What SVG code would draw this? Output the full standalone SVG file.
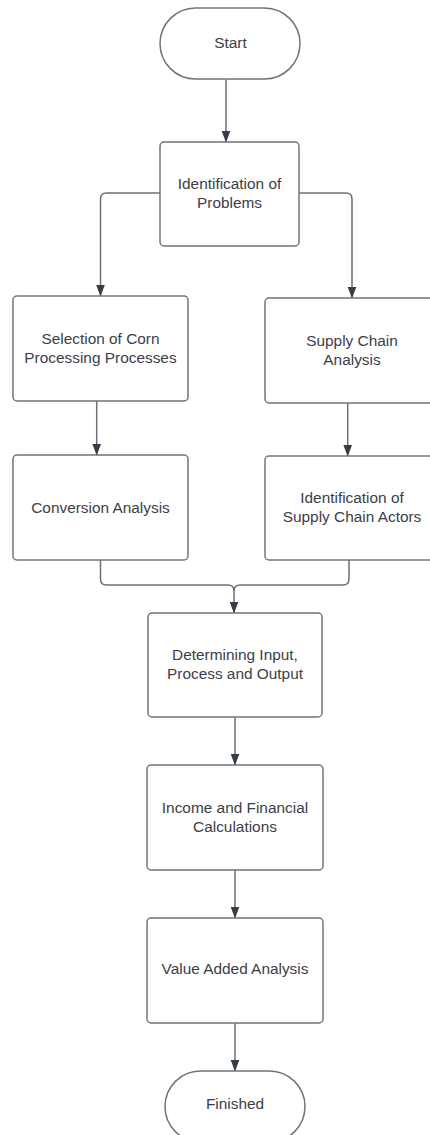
<svg xmlns="http://www.w3.org/2000/svg" width="430" height="1135" viewBox="0 0 430 1135">
<style>
.box{fill:#ffffff;stroke:#707479;stroke-width:1.5}
.lbl{font-family:"Liberation Sans",Arial,sans-serif;font-size:15.4px;fill:#3b4048;text-anchor:middle}
.con{fill:none;stroke:#6b7078;stroke-width:1.5;marker-end:url(#ah)}
</style>
<defs>
<marker id="ah" viewBox="0 0 12 10" markerWidth="12" markerHeight="10" refX="11.5" refY="5" orient="auto" markerUnits="userSpaceOnUse">
<path d="M0,0.5 L12,5 L0,9.5 z" fill="#363d47"/>
</marker>
</defs>
<rect width="430" height="1135" fill="#ffffff"/>
<g id="connectors">
<path class="con" d="M226,79.5 V142"/>
<path class="con" d="M160,193 H106.5 Q100.5,193 100.5,199 V296"/>
<path class="con" d="M299,193 H346 Q352,193 352,199 V298"/>
<path class="con" d="M96.7,401 V455"/>
<path class="con" d="M347.7,403 V456"/>
<path class="con" d="M100.5,560 V579 Q100.5,585 106.5,585 H228 Q234,585 234,591 V613"/>
<path fill="none" stroke="#6b7078" stroke-width="1.5" d="M349,560 V579 Q349,585 343,585 H240 Q234,585 234,591"/>
<path class="con" d="M235,717 V765"/>
<path class="con" d="M235,870 V918"/>
<path class="con" d="M235,1023 V1071"/>
</g>
<g id="start">
<rect class="box" x="160" y="8" width="140" height="71" rx="35.5"/>
<text class="lbl" x="230.5" y="48">Start</text>
</g>
<g id="identification-problems">
<rect class="box" x="160" y="142" width="139" height="104" rx="4"/>
<text class="lbl" x="229.5" y="189">Identification of</text>
<text class="lbl" x="229.5" y="208">Problems</text>
</g>
<g id="selection">
<rect class="box" x="13" y="296" width="175" height="105" rx="4"/>
<text class="lbl" x="100.5" y="343.5">Selection of Corn</text>
<text class="lbl" x="100.5" y="362.5">Processing Processes</text>
</g>
<g id="supply-chain-analysis">
<rect class="box" x="265" y="298" width="174" height="105" rx="4"/>
<text class="lbl" x="352" y="345.5">Supply Chain</text>
<text class="lbl" x="352" y="364.5">Analysis</text>
</g>
<g id="conversion">
<rect class="box" x="13" y="455" width="175" height="105" rx="4"/>
<text class="lbl" x="100.5" y="512.5">Conversion Analysis</text>
</g>
<g id="actors">
<rect class="box" x="265" y="456" width="174" height="104" rx="4"/>
<text class="lbl" x="352" y="502.5">Identification of</text>
<text class="lbl" x="352" y="521.5">Supply Chain Actors</text>
</g>
<g id="determining">
<rect class="box" x="148" y="613" width="174" height="104" rx="4"/>
<text class="lbl" x="235" y="659.5">Determining Input,</text>
<text class="lbl" x="235" y="678.5">Process and Output</text>
</g>
<g id="income">
<rect class="box" x="147" y="765" width="176" height="105" rx="4"/>
<text class="lbl" x="235" y="812.5">Income and Financial</text>
<text class="lbl" x="235" y="831.5">Calculations</text>
</g>
<g id="value-added">
<rect class="box" x="147" y="918" width="176" height="105" rx="4"/>
<text class="lbl" x="235" y="973.5">Value Added Analysis</text>
</g>
<g id="finished">
<rect class="box" x="165" y="1071" width="140" height="71" rx="35.5"/>
<text class="lbl" x="235" y="1109">Finished</text>
</g>
</svg>
